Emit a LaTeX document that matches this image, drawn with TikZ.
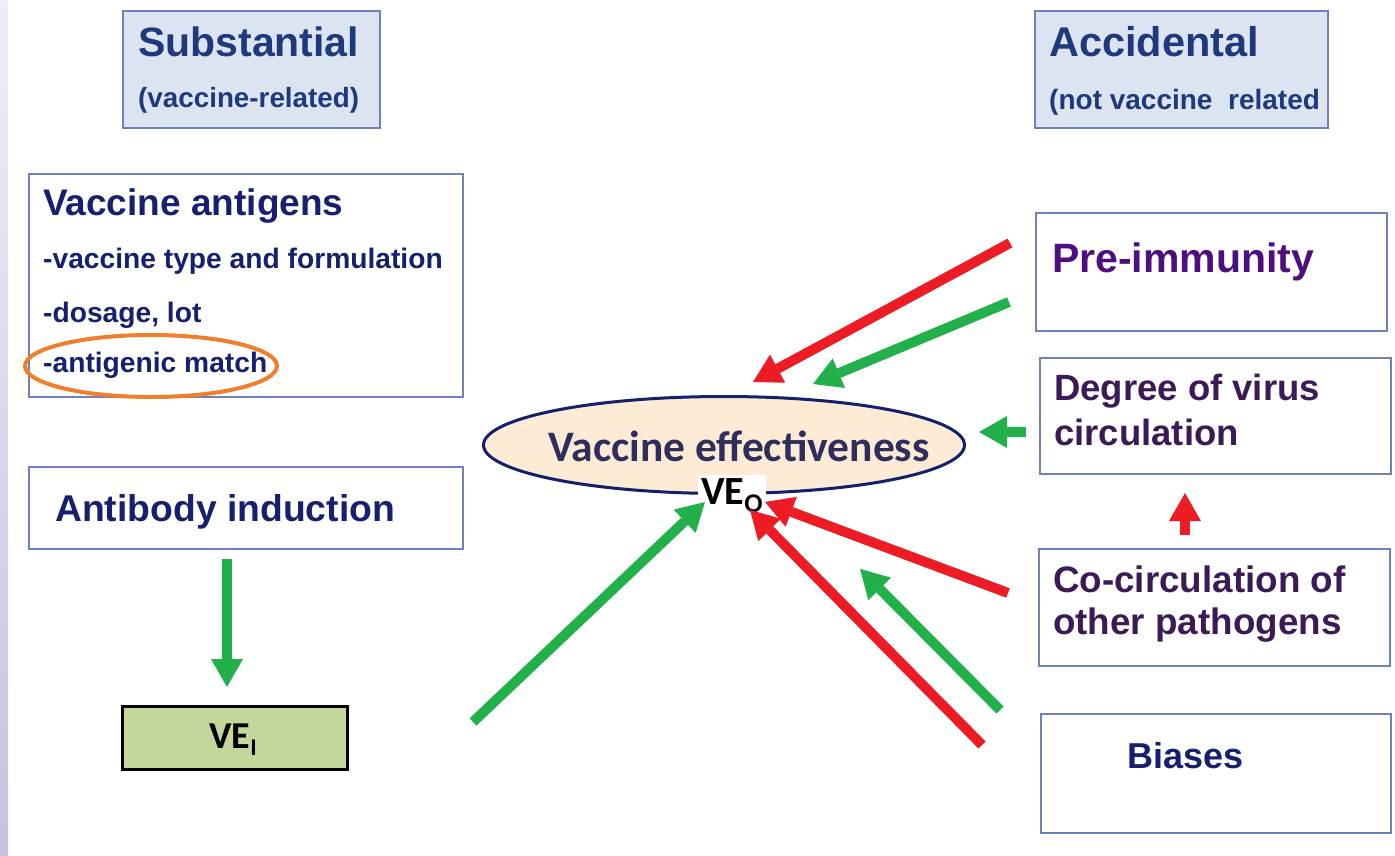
\documentclass[tikz,border=0pt]{standalone}
\usepackage{fontspec}
\setmainfont{Liberation Sans}
\newfontfamily\calibfont{Carlito}
\usetikzlibrary{arrows.meta,shapes.geometric}

\definecolor{boxline}{HTML}{7080BE}
\definecolor{headfill}{HTML}{DCE4F2}
\definecolor{headtext}{HTML}{1F3A7C}
\definecolor{navytext}{HTML}{16206E}
\definecolor{purptext}{HTML}{4E0E80}
\definecolor{plumtext}{HTML}{3B1A56}
\definecolor{ovaltext}{HTML}{2E2E5C}
\definecolor{ovalfill}{HTML}{FDEBD5}
\definecolor{ovalline}{HTML}{14206A}
\definecolor{vefill}{HTML}{C4D79B}
\definecolor{matchline}{HTML}{F07F2D}
\definecolor{upgreen}{HTML}{22B04B}
\definecolor{downred}{HTML}{ED1C24}
\definecolor{stripTop}{HTML}{EEEEF8}
\definecolor{stripBot}{HTML}{C3C3E0}

\newcommand{\fsz}[1]{\fontsize{#1}{#1}\selectfont}

\begin{document}
\begin{tikzpicture}[x=1pt,y=-1pt,
  box/.style={draw=boxline,line width=2pt,fill=white,inner sep=0pt,anchor=north west},
  headbox/.style={box,fill=headfill},
  txt/.style={anchor=base west,inner sep=0pt,font=\bfseries},
  gr/.style={draw=upgreen,line width=10pt,-{Triangle[length=28pt,width=32pt,line width=0pt]}},
  rd/.style={draw=downred,line width=10pt,-{Triangle[length=28pt,width=32pt,line width=0pt]}}]
\useasboundingbox (0,0) rectangle (1395,856);
\fill[white] (0,0) rectangle (1395,856);
\shade[top color=stripTop,bottom color=stripBot] (0,0) rectangle (8,856);

\node[headbox,minimum width=257pt,minimum height=117pt] (subst) at (122,10) {};
\node[txt,font=\fsz{41}\bfseries,text=headtext] (substA) at (138,57) {Substantial};
\node[txt,font=\fsz{27.8}\bfseries,text=headtext] (substB) at (138,108) {(vaccine-related)};

\node[headbox,minimum width=293pt,minimum height=117pt] (accid) at (1034,10) {};
\node[txt,font=\fsz{41.5}\bfseries,text=headtext] (accidA) at (1049,57) {Accidental};
\node[txt,font=\fsz{28}\bfseries,text=headtext] (accidB) at (1049,110) {(not vaccine~ related};

\node[box,minimum width=434pt,minimum height=223pt] (antig) at (28,173) {};
\node[txt,font=\fsz{37}\bfseries,text=navytext] (antigA) at (43,215) {Vaccine antigens};
\node[txt,font=\fsz{28.2}\bfseries,text=navytext] (antigB) at (43,268) {-vaccine type and formulation};
\node[txt,font=\fsz{28.2}\bfseries,text=navytext] (antigC) at (43,322) {-dosage, lot};
\node[txt,font=\fsz{28.2}\bfseries,text=navytext] (antigD) at (43,372) {-antigenic match};
\node[ellipse,draw=matchline,line width=4pt,minimum width=252pt,minimum height=62pt] (match) at (151,366) {};

\node[box,minimum width=434pt,minimum height=82pt] (antib) at (28,466) {};
\node[txt,font=\fsz{37.3}\bfseries,text=navytext] (antibA) at (55,521) {Antibody induction};

\node[box,draw=black,line width=3pt,fill=vefill,minimum width=225pt,minimum height=63pt] (vei) at (121,705) {};
\node[anchor=base,inner sep=0pt,font=\fsz{38}\calibfont\bfseries] (veiA) at (233,748) {VE\raisebox{-0.2em}{\fsz{24}I}};

\node[ellipse,draw=ovalline,line width=3pt,fill=ovalfill,minimum width=481pt,minimum height=97pt] (ve) at (724,445) {};
\node[txt,font=\fsz{43.5}\calibfont\bfseries,text=ovaltext] (veA) at (548,461) {Vaccine effectiveness};
\node[txt,inner sep=3pt,fill=white,font=\fsz{40}\calibfont\bfseries] (veo) at (698,504) {VE\raisebox{-0.22em}{\fsz{27}O}};

\node[box,minimum width=351pt,minimum height=118pt] (preim) at (1035,212) {};
\node[txt,font=\fsz{41}\bfseries,text=purptext] (preimA) at (1052,272) {Pre-immunity};

\node[box,minimum width=351pt,minimum height=116pt] (degr) at (1039,357) {};
\node[txt,font=\fsz{36.5}\bfseries,text=plumtext] (degrA) at (1054,400) {Degree of virus};
\node[txt,font=\fsz{36.5}\bfseries,text=plumtext] (degrB) at (1054,445) {circulation};

\node[box,minimum width=351pt,minimum height=117pt] (cocir) at (1038,548) {};
\node[txt,font=\fsz{36.8}\bfseries,text=plumtext] (cocirA) at (1053,592) {Co-circulation of};
\node[txt,font=\fsz{36.8}\bfseries,text=plumtext] (cocirB) at (1053,634) {other pathogens};

\node[box,minimum width=350pt,minimum height=119pt] (bias) at (1040,713) {};
\node[txt,font=\fsz{36}\bfseries,text=navytext] (biasA) at (1127,768) {Biases};

\coordinate (antibOut) at (227,559);
\coordinate (veiIn) at (227,687);
\coordinate (veiOut) at (473,722);
\coordinate (veoInL) at (705,502);
\coordinate (preimR) at (1010,243);
\coordinate (veRedTop) at (753,382);
\coordinate (preimG) at (1009,302);
\coordinate (veGrnTop) at (813,384);
\coordinate (degrOut) at (1026,432);
\coordinate (veSide) at (979,432);
\coordinate (cocirUp) at (1185,535);
\coordinate (degrIn) at (1185,493);
\coordinate (cocirOut) at (1008,593);
\coordinate (veoInR) at (765,502);
\coordinate (biasG) at (1000,710);
\coordinate (veGrnLow) at (860,569);
\coordinate (biasR) at (982,745);
\coordinate (veoInM) at (750,510);

\draw[gr] (antibOut) -- (veiIn);
\draw[gr] (veiOut) -- (veoInL);
\draw[rd] (preimR) -- (veRedTop);
\draw[gr] (preimG) -- (veGrnTop);
\draw[gr] (degrOut) -- (veSide);
\draw[rd] (cocirUp) -- (degrIn);
\draw[rd] (cocirOut) -- (veoInR);
\draw[gr] (biasG) -- (veGrnLow);
\draw[rd] (biasR) -- (veoInM);
\end{tikzpicture}
\end{document}
